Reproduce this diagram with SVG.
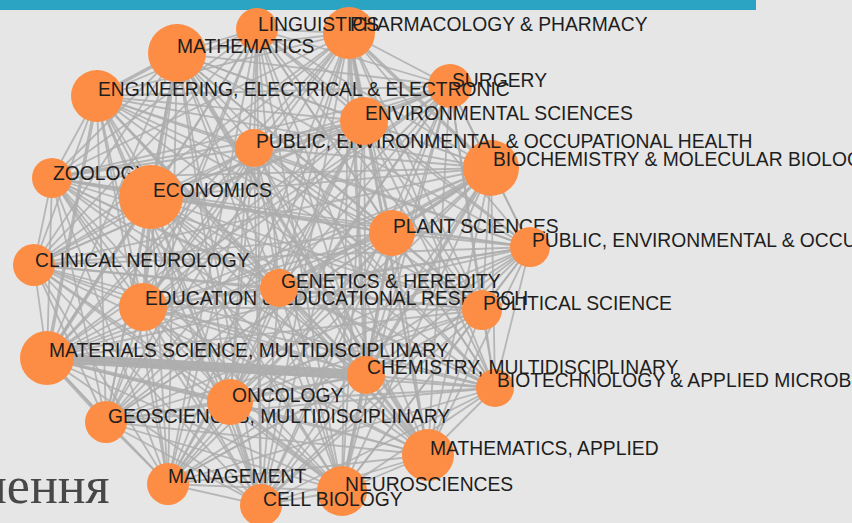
<svg xmlns="http://www.w3.org/2000/svg" width="852" height="523" viewBox="0 0 852 523">
<style>
.bg{fill:#e6e6e6}
.bar{fill:#2ba3c2}
#links line{stroke:#adadad;stroke-width:1.8;stroke-opacity:0.85}
#links line.m{stroke-width:3.5}
#links line.x{stroke-width:10;stroke-opacity:0.95}
.node circle{fill:#fd8d44}
.node text{font-family:"Liberation Sans",Arial,sans-serif;font-size:19.3px;fill:#1e1e1e}
.slide{font-family:"Liberation Serif","Times New Roman",serif;font-size:52px;fill:#474747}
</style>
<rect class="bg" x="0" y="0" width="852" height="523"/>
<rect class="bar" x="0" y="0" width="756" height="10"/>
<text class="slide" x="-21" y="503">нення</text>
<g id="links">
<line x1="349" y1="33" x2="257" y2="29"/>
<line x1="349" y1="33" x2="177" y2="53"/>
<line x1="349" y1="33" x2="450" y2="86"/>
<line x1="349" y1="33" x2="97" y2="96"/>
<line class="m" x1="349" y1="33" x2="491" y2="168"/>
<line x1="349" y1="33" x2="254" y2="148"/>
<line class="m" x1="349" y1="33" x2="364" y2="121"/>
<line x1="349" y1="33" x2="52" y2="178"/>
<line x1="349" y1="33" x2="151" y2="197"/>
<line x1="349" y1="33" x2="392" y2="233"/>
<line x1="349" y1="33" x2="530" y2="247"/>
<line x1="349" y1="33" x2="34" y2="265"/>
<line x1="349" y1="33" x2="143" y2="307"/>
<line x1="349" y1="33" x2="279" y2="288"/>
<line x1="349" y1="33" x2="482" y2="310"/>
<line x1="349" y1="33" x2="47" y2="358"/>
<line x1="349" y1="33" x2="495" y2="388"/>
<line class="m" x1="349" y1="33" x2="366" y2="375"/>
<line x1="349" y1="33" x2="106" y2="422"/>
<line x1="349" y1="33" x2="230" y2="402"/>
<line x1="349" y1="33" x2="428" y2="455"/>
<line x1="349" y1="33" x2="168" y2="484"/>
<line x1="349" y1="33" x2="342" y2="491"/>
<line x1="349" y1="33" x2="261" y2="505"/>
<line x1="257" y1="29" x2="177" y2="53"/>
<line x1="257" y1="29" x2="450" y2="86"/>
<line x1="257" y1="29" x2="97" y2="96"/>
<line x1="257" y1="29" x2="491" y2="168"/>
<line x1="257" y1="29" x2="254" y2="148"/>
<line x1="257" y1="29" x2="364" y2="121"/>
<line x1="257" y1="29" x2="52" y2="178"/>
<line x1="257" y1="29" x2="151" y2="197"/>
<line x1="257" y1="29" x2="392" y2="233"/>
<line x1="257" y1="29" x2="530" y2="247"/>
<line x1="257" y1="29" x2="34" y2="265"/>
<line x1="257" y1="29" x2="143" y2="307"/>
<line x1="257" y1="29" x2="279" y2="288"/>
<line x1="257" y1="29" x2="482" y2="310"/>
<line x1="257" y1="29" x2="47" y2="358"/>
<line x1="257" y1="29" x2="495" y2="388"/>
<line x1="257" y1="29" x2="366" y2="375"/>
<line x1="257" y1="29" x2="106" y2="422"/>
<line x1="257" y1="29" x2="230" y2="402"/>
<line x1="257" y1="29" x2="428" y2="455"/>
<line x1="257" y1="29" x2="168" y2="484"/>
<line x1="257" y1="29" x2="342" y2="491"/>
<line x1="257" y1="29" x2="261" y2="505"/>
<line x1="177" y1="53" x2="450" y2="86"/>
<line class="m" x1="177" y1="53" x2="97" y2="96"/>
<line x1="177" y1="53" x2="491" y2="168"/>
<line x1="177" y1="53" x2="254" y2="148"/>
<line x1="177" y1="53" x2="364" y2="121"/>
<line x1="177" y1="53" x2="52" y2="178"/>
<line class="m" x1="177" y1="53" x2="151" y2="197"/>
<line x1="177" y1="53" x2="392" y2="233"/>
<line x1="177" y1="53" x2="530" y2="247"/>
<line x1="177" y1="53" x2="34" y2="265"/>
<line x1="177" y1="53" x2="143" y2="307"/>
<line x1="177" y1="53" x2="279" y2="288"/>
<line x1="177" y1="53" x2="482" y2="310"/>
<line x1="177" y1="53" x2="47" y2="358"/>
<line x1="177" y1="53" x2="495" y2="388"/>
<line x1="177" y1="53" x2="366" y2="375"/>
<line x1="177" y1="53" x2="106" y2="422"/>
<line x1="177" y1="53" x2="230" y2="402"/>
<line class="m" x1="177" y1="53" x2="428" y2="455"/>
<line x1="177" y1="53" x2="168" y2="484"/>
<line x1="177" y1="53" x2="342" y2="491"/>
<line x1="177" y1="53" x2="261" y2="505"/>
<line x1="450" y1="86" x2="97" y2="96"/>
<line x1="450" y1="86" x2="491" y2="168"/>
<line x1="450" y1="86" x2="254" y2="148"/>
<line x1="450" y1="86" x2="364" y2="121"/>
<line x1="450" y1="86" x2="52" y2="178"/>
<line x1="450" y1="86" x2="151" y2="197"/>
<line x1="450" y1="86" x2="392" y2="233"/>
<line x1="450" y1="86" x2="530" y2="247"/>
<line x1="450" y1="86" x2="34" y2="265"/>
<line x1="450" y1="86" x2="143" y2="307"/>
<line x1="450" y1="86" x2="279" y2="288"/>
<line x1="450" y1="86" x2="482" y2="310"/>
<line x1="450" y1="86" x2="47" y2="358"/>
<line x1="450" y1="86" x2="495" y2="388"/>
<line x1="450" y1="86" x2="366" y2="375"/>
<line x1="450" y1="86" x2="106" y2="422"/>
<line x1="450" y1="86" x2="230" y2="402"/>
<line x1="450" y1="86" x2="428" y2="455"/>
<line x1="450" y1="86" x2="168" y2="484"/>
<line x1="450" y1="86" x2="342" y2="491"/>
<line x1="450" y1="86" x2="261" y2="505"/>
<line x1="97" y1="96" x2="491" y2="168"/>
<line x1="97" y1="96" x2="254" y2="148"/>
<line x1="97" y1="96" x2="364" y2="121"/>
<line x1="97" y1="96" x2="52" y2="178"/>
<line x1="97" y1="96" x2="151" y2="197"/>
<line x1="97" y1="96" x2="392" y2="233"/>
<line x1="97" y1="96" x2="530" y2="247"/>
<line x1="97" y1="96" x2="34" y2="265"/>
<line x1="97" y1="96" x2="143" y2="307"/>
<line x1="97" y1="96" x2="279" y2="288"/>
<line x1="97" y1="96" x2="482" y2="310"/>
<line class="m" x1="97" y1="96" x2="47" y2="358"/>
<line x1="97" y1="96" x2="495" y2="388"/>
<line x1="97" y1="96" x2="366" y2="375"/>
<line x1="97" y1="96" x2="106" y2="422"/>
<line x1="97" y1="96" x2="230" y2="402"/>
<line x1="97" y1="96" x2="428" y2="455"/>
<line x1="97" y1="96" x2="168" y2="484"/>
<line x1="97" y1="96" x2="342" y2="491"/>
<line x1="97" y1="96" x2="261" y2="505"/>
<line x1="491" y1="168" x2="254" y2="148"/>
<line x1="491" y1="168" x2="364" y2="121"/>
<line x1="491" y1="168" x2="52" y2="178"/>
<line x1="491" y1="168" x2="151" y2="197"/>
<line class="m" x1="491" y1="168" x2="392" y2="233"/>
<line x1="491" y1="168" x2="530" y2="247"/>
<line x1="491" y1="168" x2="34" y2="265"/>
<line x1="491" y1="168" x2="143" y2="307"/>
<line class="m" x1="491" y1="168" x2="279" y2="288"/>
<line x1="491" y1="168" x2="482" y2="310"/>
<line x1="491" y1="168" x2="47" y2="358"/>
<line x1="491" y1="168" x2="495" y2="388"/>
<line class="m" x1="491" y1="168" x2="366" y2="375"/>
<line x1="491" y1="168" x2="106" y2="422"/>
<line x1="491" y1="168" x2="230" y2="402"/>
<line x1="491" y1="168" x2="428" y2="455"/>
<line x1="491" y1="168" x2="168" y2="484"/>
<line x1="491" y1="168" x2="342" y2="491"/>
<line x1="491" y1="168" x2="261" y2="505"/>
<line x1="254" y1="148" x2="364" y2="121"/>
<line x1="254" y1="148" x2="52" y2="178"/>
<line x1="254" y1="148" x2="151" y2="197"/>
<line x1="254" y1="148" x2="392" y2="233"/>
<line x1="254" y1="148" x2="530" y2="247"/>
<line x1="254" y1="148" x2="34" y2="265"/>
<line x1="254" y1="148" x2="143" y2="307"/>
<line x1="254" y1="148" x2="279" y2="288"/>
<line x1="254" y1="148" x2="482" y2="310"/>
<line x1="254" y1="148" x2="47" y2="358"/>
<line x1="254" y1="148" x2="495" y2="388"/>
<line x1="254" y1="148" x2="366" y2="375"/>
<line x1="254" y1="148" x2="106" y2="422"/>
<line x1="254" y1="148" x2="230" y2="402"/>
<line x1="254" y1="148" x2="428" y2="455"/>
<line x1="254" y1="148" x2="168" y2="484"/>
<line x1="254" y1="148" x2="342" y2="491"/>
<line x1="254" y1="148" x2="261" y2="505"/>
<line x1="364" y1="121" x2="52" y2="178"/>
<line x1="364" y1="121" x2="151" y2="197"/>
<line x1="364" y1="121" x2="392" y2="233"/>
<line x1="364" y1="121" x2="530" y2="247"/>
<line x1="364" y1="121" x2="34" y2="265"/>
<line x1="364" y1="121" x2="143" y2="307"/>
<line x1="364" y1="121" x2="279" y2="288"/>
<line x1="364" y1="121" x2="482" y2="310"/>
<line x1="364" y1="121" x2="47" y2="358"/>
<line x1="364" y1="121" x2="495" y2="388"/>
<line x1="364" y1="121" x2="366" y2="375"/>
<line x1="364" y1="121" x2="106" y2="422"/>
<line x1="364" y1="121" x2="230" y2="402"/>
<line x1="364" y1="121" x2="428" y2="455"/>
<line x1="364" y1="121" x2="168" y2="484"/>
<line x1="364" y1="121" x2="342" y2="491"/>
<line x1="364" y1="121" x2="261" y2="505"/>
<line x1="52" y1="178" x2="151" y2="197"/>
<line x1="52" y1="178" x2="392" y2="233"/>
<line x1="52" y1="178" x2="530" y2="247"/>
<line x1="52" y1="178" x2="34" y2="265"/>
<line x1="52" y1="178" x2="143" y2="307"/>
<line x1="52" y1="178" x2="279" y2="288"/>
<line x1="52" y1="178" x2="482" y2="310"/>
<line x1="52" y1="178" x2="47" y2="358"/>
<line x1="52" y1="178" x2="495" y2="388"/>
<line x1="52" y1="178" x2="366" y2="375"/>
<line x1="52" y1="178" x2="106" y2="422"/>
<line x1="52" y1="178" x2="230" y2="402"/>
<line x1="52" y1="178" x2="428" y2="455"/>
<line x1="52" y1="178" x2="168" y2="484"/>
<line x1="52" y1="178" x2="342" y2="491"/>
<line x1="52" y1="178" x2="261" y2="505"/>
<line x1="151" y1="197" x2="392" y2="233"/>
<line x1="151" y1="197" x2="530" y2="247"/>
<line x1="151" y1="197" x2="34" y2="265"/>
<line class="m" x1="151" y1="197" x2="143" y2="307"/>
<line x1="151" y1="197" x2="279" y2="288"/>
<line x1="151" y1="197" x2="482" y2="310"/>
<line class="m" x1="151" y1="197" x2="47" y2="358"/>
<line x1="151" y1="197" x2="495" y2="388"/>
<line x1="151" y1="197" x2="366" y2="375"/>
<line x1="151" y1="197" x2="106" y2="422"/>
<line x1="151" y1="197" x2="230" y2="402"/>
<line x1="151" y1="197" x2="428" y2="455"/>
<line x1="151" y1="197" x2="168" y2="484"/>
<line x1="151" y1="197" x2="342" y2="491"/>
<line x1="151" y1="197" x2="261" y2="505"/>
<line x1="392" y1="233" x2="530" y2="247"/>
<line x1="392" y1="233" x2="34" y2="265"/>
<line x1="392" y1="233" x2="143" y2="307"/>
<line x1="392" y1="233" x2="279" y2="288"/>
<line x1="392" y1="233" x2="482" y2="310"/>
<line x1="392" y1="233" x2="47" y2="358"/>
<line x1="392" y1="233" x2="495" y2="388"/>
<line class="m" x1="392" y1="233" x2="366" y2="375"/>
<line x1="392" y1="233" x2="106" y2="422"/>
<line x1="392" y1="233" x2="230" y2="402"/>
<line x1="392" y1="233" x2="428" y2="455"/>
<line x1="392" y1="233" x2="168" y2="484"/>
<line x1="392" y1="233" x2="342" y2="491"/>
<line x1="392" y1="233" x2="261" y2="505"/>
<line x1="530" y1="247" x2="34" y2="265"/>
<line x1="530" y1="247" x2="143" y2="307"/>
<line x1="530" y1="247" x2="279" y2="288"/>
<line x1="530" y1="247" x2="482" y2="310"/>
<line x1="530" y1="247" x2="47" y2="358"/>
<line x1="530" y1="247" x2="495" y2="388"/>
<line x1="530" y1="247" x2="366" y2="375"/>
<line x1="530" y1="247" x2="106" y2="422"/>
<line x1="530" y1="247" x2="230" y2="402"/>
<line x1="530" y1="247" x2="428" y2="455"/>
<line x1="530" y1="247" x2="168" y2="484"/>
<line x1="530" y1="247" x2="342" y2="491"/>
<line x1="530" y1="247" x2="261" y2="505"/>
<line x1="34" y1="265" x2="143" y2="307"/>
<line x1="34" y1="265" x2="279" y2="288"/>
<line x1="34" y1="265" x2="482" y2="310"/>
<line x1="34" y1="265" x2="47" y2="358"/>
<line x1="34" y1="265" x2="495" y2="388"/>
<line x1="34" y1="265" x2="366" y2="375"/>
<line x1="34" y1="265" x2="106" y2="422"/>
<line x1="34" y1="265" x2="230" y2="402"/>
<line x1="34" y1="265" x2="428" y2="455"/>
<line x1="34" y1="265" x2="168" y2="484"/>
<line x1="34" y1="265" x2="342" y2="491"/>
<line x1="34" y1="265" x2="261" y2="505"/>
<line x1="143" y1="307" x2="279" y2="288"/>
<line x1="143" y1="307" x2="482" y2="310"/>
<line x1="143" y1="307" x2="47" y2="358"/>
<line x1="143" y1="307" x2="495" y2="388"/>
<line x1="143" y1="307" x2="366" y2="375"/>
<line x1="143" y1="307" x2="106" y2="422"/>
<line x1="143" y1="307" x2="230" y2="402"/>
<line x1="143" y1="307" x2="428" y2="455"/>
<line x1="143" y1="307" x2="168" y2="484"/>
<line x1="143" y1="307" x2="342" y2="491"/>
<line x1="143" y1="307" x2="261" y2="505"/>
<line x1="279" y1="288" x2="482" y2="310"/>
<line x1="279" y1="288" x2="47" y2="358"/>
<line x1="279" y1="288" x2="495" y2="388"/>
<line x1="279" y1="288" x2="366" y2="375"/>
<line x1="279" y1="288" x2="106" y2="422"/>
<line x1="279" y1="288" x2="230" y2="402"/>
<line x1="279" y1="288" x2="428" y2="455"/>
<line x1="279" y1="288" x2="168" y2="484"/>
<line x1="279" y1="288" x2="342" y2="491"/>
<line x1="279" y1="288" x2="261" y2="505"/>
<line x1="482" y1="310" x2="47" y2="358"/>
<line x1="482" y1="310" x2="495" y2="388"/>
<line x1="482" y1="310" x2="366" y2="375"/>
<line x1="482" y1="310" x2="106" y2="422"/>
<line x1="482" y1="310" x2="230" y2="402"/>
<line x1="482" y1="310" x2="428" y2="455"/>
<line x1="482" y1="310" x2="168" y2="484"/>
<line x1="482" y1="310" x2="342" y2="491"/>
<line x1="482" y1="310" x2="261" y2="505"/>
<line x1="47" y1="358" x2="495" y2="388"/>
<line class="x" x1="47" y1="358" x2="366" y2="375"/>
<line class="m" x1="47" y1="358" x2="106" y2="422"/>
<line class="m" x1="47" y1="358" x2="230" y2="402"/>
<line x1="47" y1="358" x2="428" y2="455"/>
<line x1="47" y1="358" x2="168" y2="484"/>
<line x1="47" y1="358" x2="342" y2="491"/>
<line x1="47" y1="358" x2="261" y2="505"/>
<line x1="495" y1="388" x2="366" y2="375"/>
<line x1="495" y1="388" x2="106" y2="422"/>
<line x1="495" y1="388" x2="230" y2="402"/>
<line x1="495" y1="388" x2="428" y2="455"/>
<line x1="495" y1="388" x2="168" y2="484"/>
<line x1="495" y1="388" x2="342" y2="491"/>
<line x1="495" y1="388" x2="261" y2="505"/>
<line x1="366" y1="375" x2="106" y2="422"/>
<line x1="366" y1="375" x2="230" y2="402"/>
<line class="m" x1="366" y1="375" x2="428" y2="455"/>
<line x1="366" y1="375" x2="168" y2="484"/>
<line class="m" x1="366" y1="375" x2="342" y2="491"/>
<line x1="366" y1="375" x2="261" y2="505"/>
<line x1="106" y1="422" x2="230" y2="402"/>
<line x1="106" y1="422" x2="428" y2="455"/>
<line x1="106" y1="422" x2="168" y2="484"/>
<line x1="106" y1="422" x2="342" y2="491"/>
<line x1="106" y1="422" x2="261" y2="505"/>
<line x1="230" y1="402" x2="428" y2="455"/>
<line x1="230" y1="402" x2="168" y2="484"/>
<line class="m" x1="230" y1="402" x2="342" y2="491"/>
<line class="m" x1="230" y1="402" x2="261" y2="505"/>
<line x1="428" y1="455" x2="168" y2="484"/>
<line x1="428" y1="455" x2="342" y2="491"/>
<line x1="428" y1="455" x2="261" y2="505"/>
<line x1="168" y1="484" x2="342" y2="491"/>
<line x1="168" y1="484" x2="261" y2="505"/>
<line x1="342" y1="491" x2="261" y2="505"/>
</g>
<g id="n-pharmacology" class="node"><circle cx="349" cy="33" r="26"/><text x="350" y="31">PHARMACOLOGY &amp; PHARMACY</text></g>
<g id="n-linguistics" class="node"><circle cx="257" cy="29" r="21"/><text x="258" y="31">LINGUISTICS</text></g>
<g id="n-mathematics" class="node"><circle cx="177" cy="53" r="29"/><text x="177" y="53">MATHEMATICS</text></g>
<g id="n-surgery" class="node"><circle cx="450" cy="86" r="22"/><text x="452" y="87">SURGERY</text></g>
<g id="n-engineering" class="node"><circle cx="97" cy="96" r="26"/><text x="98" y="96">ENGINEERING, ELECTRICAL &amp; ELECTRONIC</text></g>
<g id="n-biochemistry" class="node"><circle cx="491" cy="168" r="28"/><text x="493" y="166">BIOCHEMISTRY &amp; MOLECULAR BIOLOGY</text></g>
<g id="n-public-health-1" class="node"><circle cx="254" cy="148" r="19"/><text x="256" y="148">PUBLIC, ENVIRONMENTAL &amp; OCCUPATIONAL HEALTH</text></g>
<g id="n-environmental" class="node"><circle cx="364" cy="121" r="24"/><text x="365" y="120">ENVIRONMENTAL SCIENCES</text></g>
<g id="n-zoology" class="node"><circle cx="52" cy="178" r="20"/><text x="53" y="180">ZOOLOGY</text></g>
<g id="n-economics" class="node"><circle cx="151" cy="197" r="32"/><text x="153" y="197">ECONOMICS</text></g>
<g id="n-plant" class="node"><circle cx="392" cy="233" r="23"/><text x="393" y="233">PLANT SCIENCES</text></g>
<g id="n-public-health-2" class="node"><circle cx="530" cy="247" r="20"/><text x="532" y="247">PUBLIC, ENVIRONMENTAL &amp; OCCUPATIONAL HEALTH</text></g>
<g id="n-clinical-neurology" class="node"><circle cx="34" cy="265" r="21"/><text x="35" y="267">CLINICAL NEUROLOGY</text></g>
<g id="n-education" class="node"><circle cx="143" cy="307" r="24"/><text x="145" y="305">EDUCATION &amp; EDUCATIONAL RESEARCH</text></g>
<g id="n-genetics" class="node"><circle cx="279" cy="288" r="19"/><text x="281" y="288">GENETICS &amp; HEREDITY</text></g>
<g id="n-political" class="node"><circle cx="482" cy="310" r="20"/><text x="483" y="310">POLITICAL SCIENCE</text></g>
<g id="n-materials" class="node"><circle cx="47" cy="358" r="27"/><text x="49" y="357">MATERIALS SCIENCE, MULTIDISCIPLINARY</text></g>
<g id="n-biotechnology" class="node"><circle cx="495" cy="388" r="19"/><text x="497" y="387">BIOTECHNOLOGY &amp; APPLIED MICROBIOLOGY</text></g>
<g id="n-chemistry" class="node"><circle cx="366" cy="375" r="19"/><text x="367" y="374">CHEMISTRY, MULTIDISCIPLINARY</text></g>
<g id="n-geosciences" class="node"><circle cx="106" cy="422" r="21"/><text x="108" y="423">GEOSCIENCES, MULTIDISCIPLINARY</text></g>
<g id="n-oncology" class="node"><circle cx="230" cy="402" r="23"/><text x="232" y="402">ONCOLOGY</text></g>
<g id="n-mathematics-applied" class="node"><circle cx="428" cy="455" r="26"/><text x="430" y="455">MATHEMATICS, APPLIED</text></g>
<g id="n-management" class="node"><circle cx="168" cy="484" r="21"/><text x="168" y="483">MANAGEMENT</text></g>
<g id="n-neurosciences" class="node"><circle cx="342" cy="491" r="25"/><text x="345" y="491">NEUROSCIENCES</text></g>
<g id="n-cell-biology" class="node"><circle cx="261" cy="505" r="21"/><text x="263" y="506">CELL BIOLOGY</text></g>
</svg>
